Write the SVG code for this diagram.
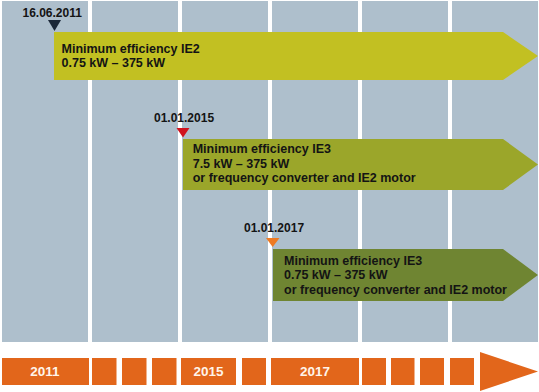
<svg xmlns="http://www.w3.org/2000/svg" width="539" height="392" viewBox="0 0 539 392">
<style>
.col{fill:#AEBFCC}
.seg{fill:#E2661B}
.t{font-family:"Liberation Sans",Arial,sans-serif;font-weight:bold;font-size:12.5px;fill:#141414}
.d{font-family:"Liberation Sans",Arial,sans-serif;font-weight:bold;font-size:12px;fill:#141414}
.y{font-family:"Liberation Sans",Arial,sans-serif;font-weight:bold;font-size:13.5px;fill:#FFF4EA;text-anchor:middle}
</style>
<rect width="539" height="392" fill="#FFFFFF"/>
<g id="background">
<rect class="col" x="2" y="1" width="86" height="341"/>
<rect class="col" x="92" y="1" width="86" height="341"/>
<rect class="col" x="182" y="1" width="86" height="341"/>
<rect class="col" x="272" y="1" width="86" height="341"/>
<rect class="col" x="362" y="1" width="86" height="341"/>
<rect class="col" x="452" y="1" width="86" height="341"/>
</g>
<g id="timeline">
<rect class="seg" x="2" y="358" width="87" height="27"/>
<rect class="seg" x="92" y="358" width="24.5" height="27"/>
<rect class="seg" x="122" y="358" width="24.5" height="27"/>
<rect class="seg" x="152" y="358" width="24.5" height="27"/>
<rect class="seg" x="181" y="358" width="55" height="27"/>
<rect class="seg" x="242" y="358" width="24" height="27"/>
<rect class="seg" x="271" y="358" width="88" height="27"/>
<rect class="seg" x="362" y="358" width="24" height="27"/>
<rect class="seg" x="391" y="358" width="23.5" height="27"/>
<rect class="seg" x="420" y="358" width="24" height="27"/>
<rect class="seg" x="450" y="358" width="24" height="27"/>
<polygon class="seg" points="480,352 538,371.5 480,391"/>
<text class="y" x="45" y="376">2011</text>
<text class="y" x="208.5" y="376">2015</text>
<text class="y" x="315" y="376">2017</text>
</g>
<g id="ie2-2011">
<polygon fill="#C2C022" points="54,32 503,32 538,56 503,80 54,80"/>
<polygon fill="#1B2838" points="48,20 61,20 54.5,31"/>
<text class="d" x="22.5" y="16.5">16.06.2011</text>
<text class="t" x="61.5" y="52.7">Minimum efficiency IE2</text>
<text class="t" x="61.5" y="66.7">0.75 kW – 375 kW</text>
</g>
<g id="ie3-2015">
<polygon fill="#9BA62A" points="183,139 503,139 538,164.5 503,190 183,190"/>
<polygon fill="#D0121E" points="176.5,128 189.5,128 183,137.5"/>
<text class="d" x="154" y="122.3">01.01.2015</text>
<text class="t" x="192.7" y="153.3">Minimum efficiency IE3</text>
<text class="t" x="192.7" y="167.8">7.5 kW – 375 kW</text>
<text class="t" x="192.7" y="182">or frequency converter and IE2 motor</text>
</g>
<g id="ie3-2017">
<polygon fill="#6F8532" points="273,249 503,249 538,275 503,301 273,301"/>
<polygon fill="#EE7A22" points="266,238 279.5,238 272.7,247"/>
<text class="d" x="244" y="231.7">01.01.2017</text>
<text class="t" x="284" y="264.5">Minimum efficiency IE3</text>
<text class="t" x="284" y="279">0.75 kW – 375 kW</text>
<text class="t" x="284" y="293.5">or frequency converter and IE2 motor</text>
</g>
</svg>
